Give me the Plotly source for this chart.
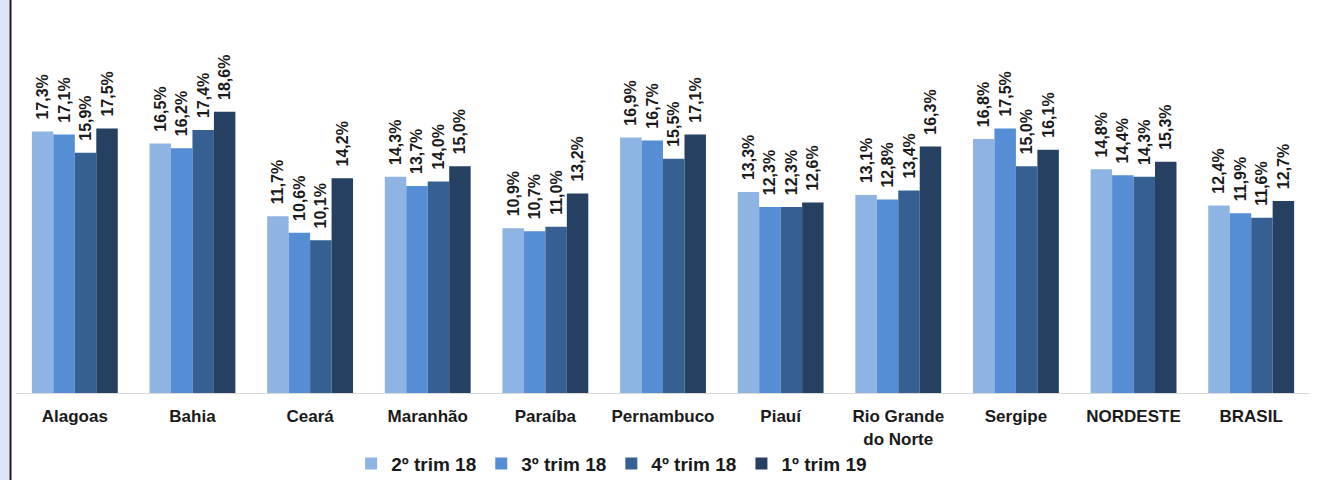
import plotly.graph_objects as go

categories = ["Alagoas", "Bahia", "Ceará", "Maranhão", "Paraíba", "Pernambuco",
              "Piauí", "Rio Grande<br>do Norte", "Sergipe", "NORDESTE", "BRASIL"]
series_names = ["2º trim 18", "3º trim 18", "4º trim 18", "1º trim 19"]
trim2_18 = [17.3, 16.5, 11.7, 14.3, 10.9, 16.9, 13.3, 13.1, 16.8, 14.8, 12.4]
trim3_18 = [17.1, 16.2, 10.6, 13.7, 10.7, 16.7, 12.3, 12.8, 17.5, 14.4, 11.9]
trim4_18 = [15.9, 17.4, 10.1, 14.0, 11.0, 15.5, 12.3, 13.4, 15.0, 14.3, 11.6]
trim1_19 = [17.5, 18.6, 14.2, 15.0, 13.2, 17.1, 12.6, 16.3, 16.1, 15.3, 12.7]
colors = ["#8EB4E3", "#558ED5", "#376092", "#254061"]

FONT = "Liberation Sans"
fig = go.Figure()
for name, vals, col in zip(series_names, [trim2_18, trim3_18, trim4_18, trim1_19], colors):
    fig.add_trace(go.Bar(
        x=categories, y=vals, name="<b>%s</b>" % name,
        marker=dict(color=col, line=dict(width=0)),
        texttemplate="\u00a0\u00a0<b>%{y:.1f}%</b>", textposition="outside", textangle=-90,
        constraintext="none", cliponaxis=False,
        textfont=dict(family=FONT, size=16, color="#1a1a1a"),
    ))

fig.update_layout(
    width=1320, height=480,
    margin=dict(l=16, r=10, t=0, b=87, autoexpand=False),
    paper_bgcolor="white", plot_bgcolor="white",
    separators=",.",
    barmode="group", bargap=0.27, bargroupgap=0,
    font=dict(family=FONT, color="#1a1a1a"),
    showlegend=True,
    legend=dict(orientation="h", x=0.259, xanchor="left", y=-0.18, yanchor="middle",
                font=dict(size=19, family=FONT, color="#1a1a1a"),
                tracegroupgap=0),
    xaxis=dict(showline=True, linecolor="#d9d9d9", linewidth=1, ticks="",
               tickfont=dict(size=17, family=FONT, color="#1a1a1a"),
               tickvals=categories, ticktext=["<b>%s</b>" % c for c in categories],
               ticklabelstandoff=8, showgrid=False, automargin=False),
    yaxis=dict(range=[0, 26], visible=False, showgrid=False, automargin=False),
    shapes=[
        dict(type="rect", xref="paper", yref="paper", xsizemode="pixel", xanchor=0,
             x0=-16, x1=-7, y0=-0.23, y1=1, fillcolor="#dde6f6", line=dict(width=0), layer="below"),
        dict(type="line", xref="paper", yref="paper", xsizemode="pixel", xanchor=0,
             x0=-5.5, x1=-5.5, y0=-0.23, y1=1, line=dict(color="#1a1a1a", width=2)),
    ],
)

fig.write_html("out.html", config={"displayModeBar": False},
               post_script="document.body.style.margin='0px';document.body.style.overflow='hidden';")
